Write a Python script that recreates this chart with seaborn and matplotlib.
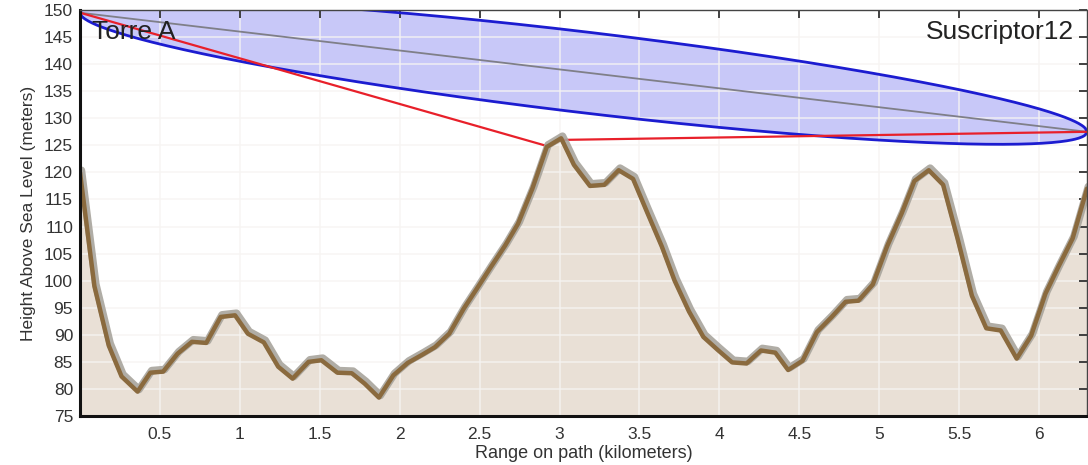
import numpy as np
import pandas as pd
import matplotlib
matplotlib.use("Agg")
import matplotlib.pyplot as plt
import matplotlib.patheffects as pe
import seaborn as sns

# ---- data ----
range_km = [0.00, 0.09, 0.18, 0.26, 0.36, 0.44, 0.52, 0.61, 0.70, 0.79, 0.88, 0.97,
            1.05, 1.15, 1.24, 1.33, 1.43, 1.51, 1.61, 1.70, 1.78, 1.87, 1.96, 2.05,
            2.14, 2.22, 2.31, 2.40, 2.48, 2.57, 2.66, 2.74, 2.83, 2.92, 3.01, 3.09,
            3.19, 3.28, 3.37, 3.46, 3.55, 3.64, 3.72, 3.81, 3.90, 3.99, 4.08, 4.17,
            4.26, 4.35, 4.43, 4.52, 4.61, 4.70, 4.79, 4.87, 4.96, 5.05, 5.14, 5.22,
            5.31, 5.40, 5.49, 5.58, 5.67, 5.76, 5.86, 5.95, 6.04, 6.12, 6.21, 6.30]
height_m = [120.0, 99.0, 88.0, 82.3, 79.5, 83.0, 83.2, 86.5, 88.7, 88.5, 93.3, 93.6,
            90.2, 88.6, 84.1, 81.9, 85.0, 85.3, 83.0, 82.9, 81.0, 78.4, 82.5, 84.8,
            86.3, 87.7, 90.2, 94.8, 98.4, 102.5, 106.5, 110.5, 117.0, 124.7, 126.3, 121.4,
            117.5, 117.7, 120.4, 118.8, 112.5, 106.3, 100.0, 94.3, 89.6, 87.2, 84.9, 84.7,
            87.1, 86.7, 83.5, 85.2, 90.5, 93.2, 96.1, 96.3, 99.3, 106.4, 112.4, 118.4,
            120.4, 117.7, 107.8, 97.2, 91.2, 90.8, 85.6, 89.8, 97.6, 102.5, 107.8, 117.0]

tower_x = [0.0, 6.3]
tower_h = [149.5, 127.5]
fresnel_mid_radius = 7.5
obstruction_x = [0.0, 2.93, 3.01, 6.3]
obstruction_h = [149.5, 124.8, 126.0, 127.5]

x_ticks = [0.5, 1, 1.5, 2, 2.5, 3, 3.5, 4, 4.5, 5, 5.5, 6]
x_tick_labels = ["0.5", "1", "1.5", "2", "2.5", "3", "3.5", "4", "4.5", "5", "5.5", "6"]
y_ticks = list(range(75, 151, 5))

label_left = "Torre A"
label_right = "Suscriptor12"
xlabel = "Range on path (kilometers)"
ylabel = "Height Above Sea Level (meters)"

# ---- plot ----
sns.set_theme(style="white")
plt.rcParams["font.family"] = ["Liberation Sans", "DejaVu Sans"]

fig = plt.figure(figsize=(10.88, 4.65), dpi=100)
ax = fig.add_axes([80 / 1088, 49 / 465, 1007 / 1088, 406 / 465])

df = pd.DataFrame({"range": range_km, "height": height_m})

# terrain fill
ax.fill_between(df["range"], 75, df["height"], color="#e9e0d6", zorder=1, lw=0)

# Fresnel ellipse
D = tower_x[1] - tower_x[0]
xe = np.linspace(tower_x[0], tower_x[1], 600)
los = np.interp(xe, tower_x, tower_h)
r = fresnel_mid_radius * 2 * np.sqrt(np.clip((xe - tower_x[0]) * (tower_x[1] - xe), 0, None)) / D
ax.fill_between(xe, los - r, los + r, color="#c8c8f8", lw=0, zorder=2)
ax.plot(xe, los + r, color="#1c1cd0", lw=2, zorder=4)
ax.plot(xe, los - r, color="#1c1cd0", lw=2, zorder=4)

# line of sight
ax.plot(tower_x, tower_h, color="#7f7f88", lw=1.3, zorder=3)
# obstruction line
ax.plot(obstruction_x, obstruction_h, color="#e8202a", lw=1.6, zorder=5)

# terrain line
sns.lineplot(data=df, x="range", y="height", ax=ax, color="#8a6a3e", lw=3.2, zorder=6,
             path_effects=[pe.SimpleLineShadow(offset=(1, 1.5), shadow_color="#a8a49c", alpha=0.9, linewidth=5.5),
                           pe.Normal()])

ax.set_xlim(0, 6.3)
ax.set_ylim(75, 150)
ax.set_xticks(x_ticks)
ax.set_xticklabels(x_tick_labels)
ax.set_yticks(y_ticks)
ax.grid(True, color="#f6f4f2", lw=1.2, alpha=0.8, zorder=7)
ax.set_axisbelow(False)
for gl in ax.get_xgridlines() + ax.get_ygridlines():
    gl.set_zorder(7)

ax.tick_params(axis="both", direction="in", length=6, width=1.2, color="#222222",
               labelsize=12.5, labelcolor="#333333", top=True, right=True, pad=5)
ax.tick_params(axis="x", pad=8)

for side in ["left", "bottom"]:
    ax.spines[side].set_linewidth(2.2)
    ax.spines[side].set_color("#111111")
for side in ["top", "right"]:
    ax.spines[side].set_linewidth(1.0)
    ax.spines[side].set_color("#444444")
for s in ax.spines.values():
    s.set_zorder(10)

ax.set_xlabel(xlabel, fontsize=13, color="#333333", labelpad=2)
ax.set_ylabel(ylabel, fontsize=12.5, color="#333333", labelpad=6)

ax.text(0.012, 0.975, label_left, transform=ax.transAxes, ha="left", va="top",
        fontsize=19, color="#222222", zorder=11)
ax.text(0.987, 0.975, label_right, transform=ax.transAxes, ha="right", va="top",
        fontsize=19, color="#222222", zorder=11)

fig.savefig("out.png", dpi=100)
